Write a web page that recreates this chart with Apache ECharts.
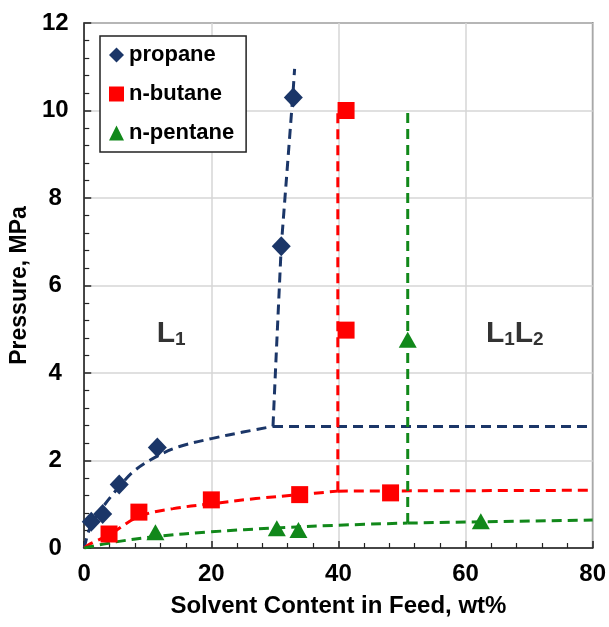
<!DOCTYPE html>
<html>
<head>
<meta charset="utf-8">
<script src="https://cdn.jsdelivr.net/npm/echarts@6/dist/echarts.min.js"></script>
<style>
html,body{margin:0;padding:0;background:#fff;}
#chart{width:609px;height:627px;}
</style>
</head>
<body>
<div id="chart"></div>
<script>
// Measured points
var propaneX = [1.1, 2.9, 5.5, 11.5, 31.0, 32.9];
var propaneY = [0.6, 0.78, 1.45, 2.3, 6.9, 10.3];
var butaneX = [3.9, 8.6, 20.0, 33.9, 48.2, 41.2, 41.2];
var butaneY = [0.32, 0.82, 1.1, 1.22, 1.26, 4.98, 10.0];
var pentaneX = [11.2, 30.3, 33.7, 50.9, 62.4];
var pentaneY = [0.36, 0.45, 0.41, 4.76, 0.61];

// Dashed guide lines
var propaneCurve = [[0,0],[1,0.5],[3,0.95],[5.5,1.4],[8,1.78],[11.5,2.1],[15,2.32],[20,2.5],[25,2.65],[29.7,2.78]];
var propaneRise = [[29.7,2.78],[30.2,4.4],[31,6.9],[32.8,10.3],[33.1,10.95]];
var propaneFlat = [[29.7,2.78],[80,2.78]];
var butaneCurve = [[0,0],[1,0.1],[3.9,0.3],[8.6,0.72],[14,0.9],[20,1.01],[27,1.13],[33.9,1.22],[39.9,1.3]];
var butaneRise = [[39.9,1.3],[39.9,10]];
var butaneFlat = [[39.9,1.3],[80,1.32]];
var pentaneCurve = [[0,0],[5,0.14],[11.2,0.26],[20,0.37],[30.3,0.46],[39.7,0.52],[50.9,0.57]];
var pentaneRise = [[50.9,0.57],[50.9,10]];
var pentaneFlat = [[50.9,0.57],[62.4,0.6],[80,0.64]];

var xTicks = [0, 20, 40, 60, 80];
var yTicks = [0, 2, 4, 6, 8, 10, 12];

var regionX = [11.4, 63.2];
var regionY = [4.55, 4.55];
var regionText = ['{b|L}{s|1}', '{b|L}{s|1}{b|L}{s|2}'];

var NAVY = '#1b3668', RED = '#ff0000', GREEN = '#11881a';
var FONT = 'Liberation Sans, Arial, sans-serif';

function pairs(xs, ys){ return xs.map(function(x,i){ return [x, ys[i]]; }); }
function dashed(data, color, smooth){
  return {type:'line', data:data, showSymbol:false, symbol:'none', smooth:smooth?0.35:false,
    silent:true, z:2, lineStyle:{color:color, width:3, type:[10,6]}};
}

var chart = echarts.init(document.getElementById('chart'), null, {renderer:'canvas'});
chart.setOption({
  animation:false,
  backgroundColor:'#fff',
  grid:{left:83, right:13, top:23, bottom:79, show:true, borderColor:'#222', borderWidth:1.5},
  legend:{
    data:['propane','n-butane','n-pentane'],
    orient:'vertical', left:100, top:36,
    padding:[8,12,8,9], itemGap:17, itemWidth:15, itemHeight:15,
    borderColor:'#222', borderWidth:1.5, backgroundColor:'#fff',
    textStyle:{fontFamily:FONT, fontSize:22, fontWeight:'bold', color:'#000', lineHeight:22}
  },
  xAxis:{
    type:'value', min:xTicks[0], max:xTicks[xTicks.length-1], interval:20,
    name:'Solvent Content in Feed, wt%', nameLocation:'middle', nameGap:46,
    nameTextStyle:{fontFamily:FONT, fontSize:24, fontWeight:'bold', color:'#000'},
    axisLine:{lineStyle:{color:'#222', width:1.5}},
    axisTick:{inside:true, length:7, lineStyle:{color:'#222', width:1.5}},
    minorTick:{show:true, splitNumber:5, length:5, lineStyle:{color:'#222', width:1.2}},
    axisLabel:{fontFamily:FONT, fontSize:24, fontWeight:'bold', color:'#000', margin:14},
    splitLine:{show:true, lineStyle:{color:'#d6d6d6', width:1.5}}
  },
  yAxis:{
    type:'value', min:yTicks[0], max:yTicks[yTicks.length-1], interval:2,
    name:'Pressure, MPa', nameLocation:'middle', nameGap:48,
    nameTextStyle:{fontFamily:FONT, fontSize:23, fontWeight:'bold', color:'#000'},
    axisLine:{lineStyle:{color:'#222', width:1.5}},
    axisTick:{inside:true, length:7, lineStyle:{color:'#222', width:1.5}},
    minorTick:{show:true, splitNumber:5, length:5, lineStyle:{color:'#222', width:1.2}},
    axisLabel:{fontFamily:FONT, fontSize:24, fontWeight:'bold', color:'#000', margin:29, align:'center'},
    splitLine:{show:true, lineStyle:{color:'#d6d6d6', width:1.5}}
  },
  series:[
    dashed(propaneCurve, NAVY, true),
    dashed(propaneRise, NAVY, false),
    dashed(propaneFlat, NAVY, false),
    dashed(butaneCurve, RED, true),
    dashed(butaneRise, RED, false),
    dashed(butaneFlat, RED, false),
    dashed(pentaneCurve, GREEN, true),
    dashed(pentaneRise, GREEN, false),
    dashed(pentaneFlat, GREEN, false),
    {name:'propane', type:'scatter', symbol:'diamond', symbolSize:[19,20], z:5,
      itemStyle:{color:NAVY, opacity:1}, data:pairs(propaneX, propaneY)},
    {name:'n-butane', type:'scatter', symbol:'rect', symbolSize:17, z:5,
      itemStyle:{color:RED, opacity:1}, data:pairs(butaneX, butaneY)},
    {name:'n-pentane', type:'scatter', symbol:'triangle', symbolSize:[18,16], z:5,
      itemStyle:{color:GREEN, opacity:1}, data:pairs(pentaneX, pentaneY)},
    {name:'regions', type:'scatter', symbolSize:0, silent:true, z:6,
      data:regionX.map(function(x,i){ return {value:[x, regionY[i]], label:{formatter:regionText[i]}}; }),
      label:{show:true, position:[0,0], align:'left', verticalAlign:'bottom',
        rich:{
          b:{fontFamily:FONT, fontSize:30, fontWeight:'bold', color:'#000', lineHeight:30, verticalAlign:'bottom'},
          s:{fontFamily:FONT, fontSize:19, fontWeight:'bold', color:'#000', lineHeight:19, verticalAlign:'bottom', padding:[14,0,0,0]}
        }}
    }
  ]
});
</script>
</body>
</html>
